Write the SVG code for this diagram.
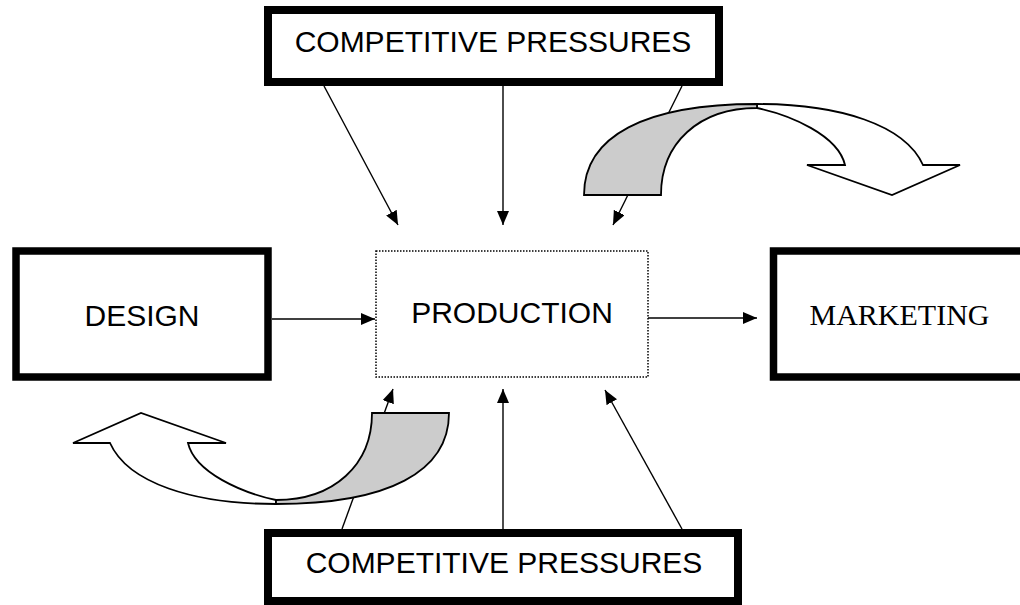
<svg xmlns="http://www.w3.org/2000/svg" xmlns:xlink="http://www.w3.org/1999/xlink" width="1020" height="605" viewBox="0 0 1020 605">
  <style>
    .box { fill: #ffffff; stroke: #000000; stroke-width: 8; }
    .side { fill: #ffffff; stroke: #000000; stroke-width: 7.5; }
    .dotted { fill: #ffffff; stroke: #000000; stroke-width: 1.5; stroke-dasharray: 1.5 1.5; }
    .label { font-family: "Liberation Sans", Arial, sans-serif; font-size: 30px; fill: #000000; text-anchor: middle; }
    .serif { font-family: "Liberation Serif", "Times New Roman", serif; font-size: 30px; fill: #000000; text-anchor: middle; }
    .conn { fill: none; stroke: #000000; stroke-width: 1.4; marker-end: url(#arrow); }
    .band { fill: #ffffff; stroke: #000000; stroke-width: 1.8; stroke-linejoin: miter; }
    .shade { fill: #cccccc; stroke: #000000; stroke-width: 1.8; }
  </style>
  <defs>
    <marker id="arrow" markerUnits="userSpaceOnUse" markerWidth="14" markerHeight="12" refX="14" refY="6" orient="auto">
      <path d="M0,0 L14,6 L0,12 Z" fill="#000000"/>
    </marker>
    <g id="curved">
      <path class="band" d="M757,104 C840,104 905,125 923,165 L960,165 L892,195 L807,165 L845,165 C838,135 790,115 757,108 Z"/>
      <path class="shade" d="M584,195 C584,136 645,104 757,104 L757,108 C699,108 661,143 661,195 Z"/>
    </g>
  </defs>
  <rect width="1020" height="605" fill="#ffffff"/>

  <g id="connectors">
    <line class="conn" x1="272" y1="319" x2="375" y2="319"/>
    <line class="conn" x1="648" y1="318" x2="757" y2="318"/>
    <line class="conn" x1="503" y1="86" x2="503" y2="225"/>
    <line class="conn" x1="324" y1="86" x2="398" y2="225"/>
    <line class="conn" x1="682" y1="86" x2="613" y2="225"/>
    <line class="conn" x1="503" y1="529" x2="503" y2="389"/>
    <line class="conn" x1="682" y1="529" x2="605" y2="390"/>
    <line class="conn" x1="342" y1="529" x2="393" y2="389"/>
  </g>

  <g id="curved-arrow-top">
    <use xlink:href="#curved" href="#curved"/>
  </g>
  <g id="curved-arrow-bottom">
    <use xlink:href="#curved" href="#curved" transform="rotate(180 516.5 304)"/>
  </g>

  <g id="node-top-pressures">
    <rect class="box" x="268" y="10" width="451" height="72"/>
    <text class="label" x="493" y="52">COMPETITIVE PRESSURES</text>
  </g>
  <g id="node-design">
    <rect class="side" x="16" y="251" width="252" height="126"/>
    <text class="label" x="142" y="326">DESIGN</text>
  </g>
  <g id="node-production">
    <rect class="dotted" x="376" y="251" width="272" height="126"/>
    <text class="label" x="512" y="323">PRODUCTION</text>
  </g>
  <g id="node-marketing">
    <rect class="side" x="773.5" y="251" width="260" height="126"/>
    <text class="serif" x="899.5" y="325">MARKETING</text>
  </g>
  <g id="node-bottom-pressures">
    <rect class="box" x="268" y="533" width="470" height="68"/>
    <text class="label" x="504" y="573">COMPETITIVE PRESSURES</text>
  </g>
</svg>
